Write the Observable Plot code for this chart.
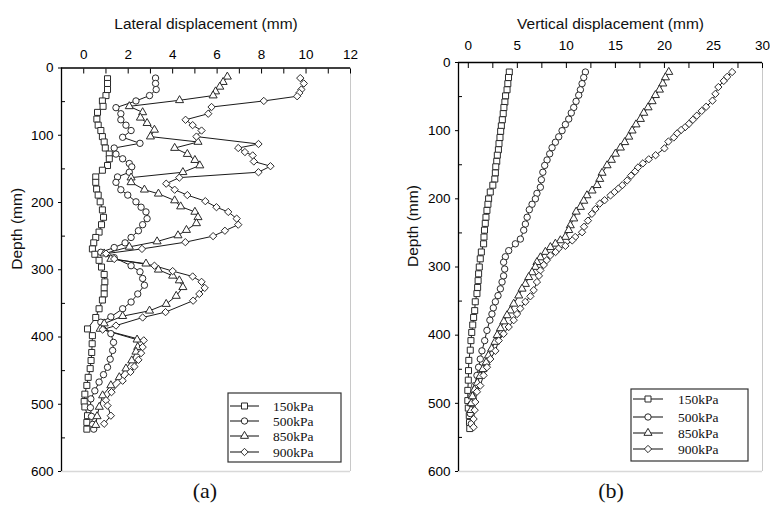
<!DOCTYPE html>
<html><head><meta charset="utf-8">
<script src="https://cdn.jsdelivr.net/npm/d3@7"></script>
<script src="https://cdn.jsdelivr.net/npm/@observablehq/plot@0.6"></script>
<style>
body{margin:0;background:#fff;}
#wrap{position:relative;width:770px;height:508px;overflow:hidden;background:#fff;}
.panel{position:absolute;top:0;}
.cap{position:absolute;top:478px;width:60px;text-align:center;font-family:"Liberation Serif","Times New Roman",serif;font-size:22px;color:#111;}
.leg{position:absolute;}
</style></head>
<body><div id="wrap"></div>
<script>
const seriesNames = ["150kPa","500kPa","850kPa","900kPa"];
const symbolNames = ["square","circle","triangle","diamond2"];
const symbolR = [3.4,3.2,3.0,3.3];

// (a) Lateral displacement: [depth (mm), displacement (mm)]
const lat150 = [[16,1.07],[23,1.07],[32,1.07],[41,1.0],[49,0.84],[57,0.87],[66,0.62],[76,0.59],[85,0.65],[93,0.77],[102,0.84],[110,0.92],[119,0.97],[128,1.15],[135,1.15],[145,1.07],[152,0.84],[162,0.54],[170,0.54],[180,0.58],[189,0.65],[199,0.74],[211,0.84],[222,0.89],[233,0.8],[244,0.69],[252,0.54],[260,0.45],[269,0.39],[277,0.5],[286,0.69],[296,0.8],[307,0.92],[318,0.95],[327,0.92],[336,0.92],[345,0.84],[358,0.69],[371,0.54],[388,0.17],[398,0.39],[410,0.38],[423,0.36],[435,0.33],[447,0.29],[460,0.2],[472,0.14],[485,0.05],[496,0.02],[504,0.05],[517,0.17],[527,0.14],[537,0.14]];
const lat500 = [[15,3.23],[23,3.23],[32,3.26],[41,2.96],[49,2.35],[59,1.45],[68,1.67],[77,1.67],[85,1.9],[93,2.13],[103,1.75],[112,2.53],[119,1.37],[128,1.45],[135,1.75],[142,2.05],[147,2.16],[155,2.05],[162,1.52],[170,1.45],[181,1.67],[189,1.98],[199,2.35],[207,2.58],[214,2.8],[224,2.85],[233,2.65],[242,2.46],[252,2.13],[260,1.86],[267,1.37],[274,0.77],[282,1.37],[294,2.13],[303,2.53],[313,2.65],[323,2.73],[336,2.43],[348,2.13],[358,1.75],[370,1.22],[378,0.77],[395,1.22],[408,1.34],[420,1.3],[433,1.19],[445,1.07],[456,0.89],[467,0.69],[480,0.5],[492,0.32],[505,0.3],[518,0.35],[530,0.4],[537,0.45]];
const lat850 = [[13,6.46],[21,6.27],[28,6.12],[35,5.93],[41,5.82],[48,4.31],[57,2.05],[66,2.65],[74,2.55],[82,2.85],[92,3.18],[102,3.0],[110,5.14],[119,4.09],[128,4.66],[137,5.0],[145,5.22],[155,4.46],[163,2.13],[170,2.13],[181,2.73],[187,3.36],[197,4.09],[206,4.36],[214,5.0],[222,5.14],[231,5.07],[241,4.62],[249,4.24],[258,3.3],[266,2.05],[276,0.92],[284,1.22],[291,2.8],[300,3.36],[309,4.0],[316,4.3],[326,4.46],[339,4.16],[351,3.71],[361,2.96],[369,1.75],[380,0.92],[388,0.74],[404,2.4],[415,2.43],[422,2.35],[435,2.16],[447,1.9],[460,1.6],[472,1.22],[487,0.85],[504,0.7],[518,0.6],[531,0.54]];
const lat900 = [[15,9.74],[23,9.9],[32,9.79],[37,9.7],[42,9.6],[49,8.1],[58,5.75],[68,5.6],[77,4.58],[85,4.9],[93,5.3],[102,5.07],[113,7.86],[119,6.95],[125,7.25],[130,7.6],[139,7.65],[146,8.4],[155,7.86],[163,4.3],[172,3.71],[181,4.09],[189,4.66],[198,5.47],[207,5.97],[214,6.5],[224,6.88],[233,6.95],[242,6.35],[250,5.82],[259,4.57],[269,2.62],[276,1.0],[284,1.37],[294,3.18],[302,4.0],[310,4.9],[318,5.3],[327,5.44],[336,5.2],[346,4.92],[363,3.68],[371,2.65],[383,1.45],[389,0.85],[405,2.7],[415,2.65],[424,2.58],[434,2.46],[444,2.28],[452,2.1],[465,1.75],[482,1.25],[494,1.0],[502,1.07],[517,1.22],[529,0.92]];

// (b) Vertical displacement: [depth (mm), displacement (mm)]
const vert150 = [[14,4.18],[22,4.1],[31,4.03],[40,3.95],[49,3.8],[58,3.73],[66,3.63],[75,3.56],[84,3.47],[93,3.37],[101,3.3],[110,3.23],[119,3.13],[128,3.07],[136,2.96],[145,2.9],[153,2.8],[162,2.76],[171,2.7],[180,2.5],[190,2.24],[200,2.07],[208,2.0],[217,1.9],[227,1.8],[236,1.73],[246,1.65],[256,1.6],[266,1.56],[278,1.33],[288,1.22],[300,1.12],[310,1.05],[320,1.0],[330,0.95],[339,0.88],[351,0.71],[364,0.65],[374,0.54],[385,0.45],[396,0.35],[408,0.27],[422,0.2],[437,0.05],[452,0.02],[466,0.0],[481,-0.05],[496,-0.05],[507,0.0],[518,0.1],[528,0.12],[537,0.15]];
const vert500 = [[14,11.94],[22,11.77],[31,11.6],[40,11.43],[48,11.26],[57,10.99],[66,10.75],[74,10.5],[83,10.24],[91,9.9],[100,9.56],[109,9.22],[117,8.88],[125,8.54],[134,8.3],[143,8.03],[151,7.79],[161,7.6],[172,7.45],[183,7.35],[192,7.0],[200,6.84],[208,6.5],[216,6.22],[227,6.0],[237,5.82],[246,5.65],[259,5.31],[266,4.8],[276,4.12],[285,3.78],[293,3.6],[303,3.71],[313,3.6],[322,3.44],[332,3.27],[342,3.03],[351,2.76],[360,2.55],[369,2.41],[378,2.2],[393,1.9],[408,1.67],[423,1.39],[435,1.22],[447,1.05],[459,0.88],[474,0.65],[489,0.37],[501,0.31],[515,0.2],[530,0.31]];
const vert850 = [[14,20.44],[22,20.1],[31,19.83],[40,19.49],[48,19.08],[57,18.74],[66,18.33],[74,17.89],[83,17.55],[91,17.1],[100,16.7],[109,16.36],[117,15.95],[125,15.51],[134,15.0],[143,14.59],[151,14.15],[162,13.64],[171,13.4],[180,13.13],[188,12.62],[195,12.1],[203,11.77],[212,11.43],[219,11.0],[229,10.75],[239,10.4],[246,10.24],[256,9.9],[261,9.39],[266,8.88],[271,8.37],[278,7.86],[286,7.35],[293,7.0],[300,6.84],[308,6.5],[315,6.16],[325,5.82],[332,5.48],[342,5.14],[354,4.63],[364,4.29],[371,3.95],[380,3.62],[390,3.28],[400,2.95],[410,2.72],[420,2.38],[430,2.05],[440,1.82],[450,1.48],[460,1.2],[470,0.92],[480,0.62],[490,0.42],[500,0.3],[510,0.28]];
const vert900 = [[14,26.9],[21,26.4],[27,26.05],[36,25.5],[46,25.2],[56,24.9],[65,24.25],[71,23.8],[78,23.3],[84,22.9],[90,22.5],[95,22.1],[99,21.7],[104,21.3],[110,20.95],[116,20.4],[126,20.0],[136,19.1],[142,18.4],[148,17.8],[154,17.3],[160,17.0],[166,16.6],[173,16.2],[180,15.7],[185,15.3],[190,14.9],[195,14.5],[202,13.9],[207,13.4],[215,12.96],[222,12.6],[232,12.2],[241,11.8],[249,11.6],[256,10.9],[261,10.6],[269,9.9],[273,9.2],[278,8.9],[283,8.37],[290,8.0],[297,7.7],[305,7.35],[313,7.2],[322,7.0],[334,6.67],[343,6.33],[351,5.82],[361,5.3],[369,4.97],[378,4.63],[388,4.12],[398,3.6],[408,3.1],[423,2.76],[435,2.24],[447,1.9],[459,1.56],[474,1.22],[483,0.88],[498,0.71],[510,0.65],[523,0.54],[535,0.54]];

const latTicks = [0,2,4,6,8,10,12];
const latMinorTicks = [0,1,2,3,4,5,6,7,8,9,10,11,12];
const vertTicks = [0,5,10,15,20,25,30];
const vertMinorTicks = [0,2.5,5,7.5,10,12.5,15,17.5,20,22.5,25,27.5,30];
const depthTicks = [0,100,200,300,400,500,600];
const depthMinorTicks = [50,150,250,350,450,550];

const wrap = document.getElementById("wrap");

function toRows(arrs){
  return arrs.map((arr,i)=>arr.map(([d,v])=>({series:seriesNames[i], depth:d, value:v})));
}

function panel(o){
  const groups = toRows(o.series);
  const marks = [
    Plot.ruleX([o.xDomain[1]], {stroke:"#c8c8c8", strokeWidth:1}),
    Plot.ruleY([600], {stroke:"#d8d8d8", strokeWidth:1.5}),
    Plot.axisX({anchor:"top", label:null, ticks:o.xMinor, tickSize:-5, tickPadding:o.topPad, tickFormat:d=>o.xTicks.includes(d)?String(d):"", fontSize:13.5, stroke:"#000"}),
    Plot.axisY({anchor:"left", label:null, ticks:depthMinorTicks, tickSize:-4, tickFormat:()=>"", stroke:"#000"}),
    Plot.axisY({anchor:"left", label:null, ticks:depthTicks, tickSize:3, tickPadding:5, tickFormat:d=>String(d), fontSize:13.5, stroke:"#000"}),
    Plot.ruleX([o.xDomain[0]], {stroke:"#000", strokeWidth:1.3}),
    Plot.ruleY([0], {stroke:"#000", strokeWidth:1.3}),
    Plot.text([o.title], {frameAnchor:"top", dy:17-o.mT, fontSize:15.5, fill:"#111"}),
    Plot.text(["Depth (mm)"], {frameAnchor:"left", dx:o.depthX-o.mL, rotate:-90, fontSize:15.5, fill:"#111"})
  ];
  groups.forEach((g,i)=>{
    marks.push(Plot.line(g, {x:"value", y:"depth", stroke:"#1a1a1a", strokeWidth:1}));
  });
  groups.forEach((g,i)=>{
    marks.push(Plot.dot(g, {x:"value", y:"depth", symbol:()=>symbolNames[i], r:symbolR[i], fill:"white", stroke:"#2a2a2a", strokeWidth:1}));
  });
  const svg = Plot.plot({
    width:o.width, height:508,
    marginLeft:o.mL, marginRight:o.mR, marginTop:o.mT, marginBottom:o.mB,
    x:{domain:o.xDomain, axis:null, label:null},
    y:{domain:[0,600], reverse:true, axis:null, label:null},
    symbol:{domain:symbolNames, range:symbolNames},
    style:{fontFamily:'"Liberation Sans", Arial, sans-serif', background:"transparent", overflow:"visible"},
    marks
  });
  svg.classList.add("panel");
  svg.style.left = o.left + "px";
  wrap.appendChild(svg);
}

panel({series:[lat150,lat500,lat850,lat900], xDomain:[-1,12], xTicks:latTicks, xMinor:latMinorTicks,
  width:385, left:0, mL:61, mR:35, mT:67.5, mB:37, topPad:14, title:"Lateral displacement (mm)", depthX:17});
panel({series:[vert150,vert500,vert850,vert900], xDomain:[-1,30], xTicks:vertTicks, xMinor:vertMinorTicks,
  width:385, left:385, mL:73, mR:8, mT:62, mB:37, topPad:18, title:"Vertical displacement (mm)", depthX:28});

function legend(x, y, w, h, rowY, lineX0, lineX1, textX){
  const svg = d3.create("svg").attr("class","leg").attr("width",w+2).attr("height",h+2)
    .style("left",(x-1)+"px").style("top",(y-1)+"px");
  svg.append("rect").attr("x",1).attr("y",1).attr("width",w).attr("height",h).attr("fill","white").attr("stroke","#333").attr("stroke-width",1.2);
  seriesNames.forEach((s,i)=>{
    const cy = rowY[i]+1;
    svg.append("line").attr("x1",lineX0+1).attr("x2",lineX1+1).attr("y1",cy).attr("y2",cy).attr("stroke","#222").attr("stroke-width",1.1);
    const typ = {square:d3.symbolSquare, circle:d3.symbolCircle, triangle:d3.symbolTriangle, diamond2:d3.symbolDiamond2}[symbolNames[i]];
    const r = symbolR[i];
    svg.append("path").attr("d", d3.symbol(typ, Math.PI*r*r)()).attr("transform",`translate(${(lineX0+lineX1)/2+1},${cy})`)
      .attr("fill","white").attr("stroke","#2a2a2a").attr("stroke-width",1);
    svg.append("text").attr("x",textX+1).attr("y",cy).attr("dy","0.35em").text(s)
      .style("font-family",'"Liberation Serif","Times New Roman",serif').style("font-size","13.5px").attr("fill","#111");
  });
  wrap.appendChild(svg.node());
}
legend(228, 393, 113, 69, [13,28,43,59], 2, 31, 45);
legend(631, 389, 117, 72, [10,28,44,60], 2, 32, 47);

const capA = document.createElement("div"); capA.className="cap"; capA.textContent="(a)"; capA.style.left=(205-30)+"px"; wrap.appendChild(capA);
const capB = document.createElement("div"); capB.className="cap"; capB.textContent="(b)"; capB.style.left=(611-30)+"px"; wrap.appendChild(capB);
</script>
</body></html>
